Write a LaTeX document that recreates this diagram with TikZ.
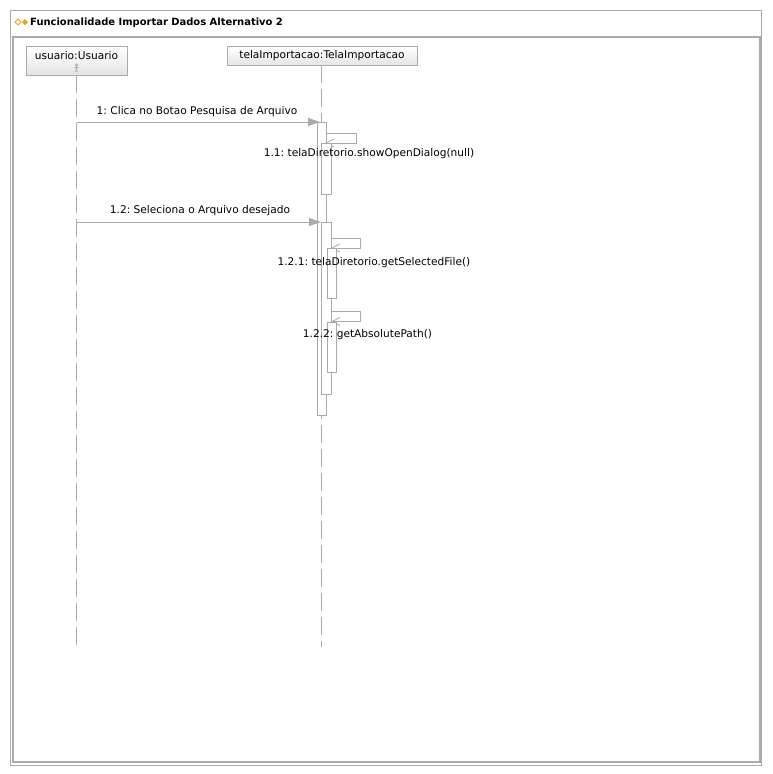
\documentclass[tikz,border=0pt]{standalone}
\usepackage{fontspec}
\setmainfont{DejaVu Sans}
\usetikzlibrary{arrows.meta}
\definecolor{lg}{HTML}{AAAAAA}
\definecolor{hd}{HTML}{E4E4E4}
\definecolor{ic}{HTML}{E8A020}
\begin{document}
\frenchspacing
\begin{tikzpicture}[x=1pt,y=-1pt,
  ln/.style={draw=lg, line width=1pt},
  lifeline/.style={draw=lg, line width=1pt, dash pattern=on 18pt off 6pt},
  bar/.style={draw=lg, fill=white, line width=1pt, inner sep=0pt, anchor=north west},
  head/.style={draw=lg, line width=1pt, top color=white, bottom color=hd, inner sep=0pt, anchor=north west},
  msg/.style={draw=lg, line width=1pt, -{Triangle[length=12pt,width=8pt,fill=lg]}},
  selfmsg/.style={draw=lg, line width=1pt, -{Straight Barb[length=8pt,width=8pt,line width=0.8pt]}},
  lbl/.style={font=\fontsize{10.6}{12}\selectfont, inner sep=0pt, text=black}
]
\useasboundingbox (0,0) rectangle (772,774);
% frame
\draw[ln] (10.5,10.5) rectangle (761,765);
\draw[draw=lg, line width=2pt] (12.5,762) -- (12.5,37) -- (760,37) -- (760,762) -- cycle;
% title icons
\draw[draw=ic, line width=0.9pt] (15,22) -- (18,19) -- (21,22) -- (18,25) -- cycle;
\fill[ic] (22,22) -- (25,19) -- (28,22) -- (25,25) -- cycle;
\node[anchor=west, inner sep=0pt, font=\bfseries\fontsize{9.95}{12}\selectfont] (title) at (30,22.5) {Funcionalidade Importar Dados Alternativo 2};
% lifeline heads
\node[head, minimum width=101pt, minimum height=29pt] (uhead) at (26,46) {};
\node[lbl] (ulbl) at (76.5,55.5) {usuario:Usuario};
\node[head, minimum width=190pt, minimum height=19pt] (thead) at (227,46) {};
\node[lbl] (tlbl) at (322,56) {telaImportacao:TelaImportacao};
% actor icon
\draw[draw=lg, line width=0.6pt] (76.5,65) circle (1.1pt);
\draw[draw=lg, line width=0.6pt] (76.5,66.2) -- (76.5,69.5) (74.5,67.5) -- (78.5,67.5) (76.5,69.5) -- (75,72) (76.5,69.5) -- (78,72);
% lifelines
\coordinate (utop) at (76.5,75);
\coordinate (ubot) at (76.5,647);
\coordinate (ttop) at (321.5,65);
\coordinate (tbot) at (321.5,647);
\draw[lifeline] (utop) -- (ubot);
\draw[lifeline] (ttop) -- (tbot);
% activation A
\node[bar, minimum width=8.5pt, minimum height=293pt] (A) at (317,122) {};
% self message 1.1
\coordinate (s1a) at (325.5,133);
\coordinate (s1b) at (356.5,133);
\coordinate (s1c) at (356.5,143);
\coordinate (s1d) at (325,143);
\draw[selfmsg] (s1a) -- (s1b) -- (s1c) -- (s1d);
\node[bar, minimum width=9.5pt, minimum height=51pt] (B) at (321,143) {};
% activation C
\node[bar, minimum width=10pt, minimum height=172pt] (C) at (321,222) {};
% self message 1.2.1
\coordinate (s2a) at (331,238.5);
\coordinate (s2b) at (360.5,238.5);
\coordinate (s2c) at (360.5,248);
\coordinate (s2d) at (331,248);
\draw[selfmsg] (s2a) -- (s2b) -- (s2c) -- (s2d);
\node[bar, minimum width=9.5pt, minimum height=50pt] (D) at (326.5,248) {};
% self message 1.2.2
\coordinate (s3a) at (331,311.5);
\coordinate (s3b) at (360.5,311.5);
\coordinate (s3c) at (360.5,321.5);
\coordinate (s3d) at (331,321.5);
\draw[selfmsg] (s3a) -- (s3b) -- (s3c) -- (s3d);
\node[bar, minimum width=9.5pt, minimum height=50pt] (E) at (326.5,321.5) {};
% messages
\coordinate (m1s) at (76.5,122);
\coordinate (m1e) at (320,122);
\draw[msg] (m1s) -- (m1e);
\coordinate (m2s) at (76.5,222);
\coordinate (m2e) at (321,222);
\draw[msg] (m2s) -- (m2e);
% labels
\node[lbl] (l1) at (197,111.5) {1: Clica no Botao Pesquisa de Arquivo};
\node[lbl] (l11) at (369,154) {1.1: telaDiretorio.showOpenDialog(null)};
\node[lbl] (l12) at (200,211) {1.2: Seleciona o Arquivo desejado};
\node[lbl] (l121) at (374,262.5) {1.2.1: telaDiretorio.getSelectedFile()};
\node[lbl] (l122) at (367.5,334.5) {1.2.2: getAbsolutePath()};
\end{tikzpicture}
\end{document}
